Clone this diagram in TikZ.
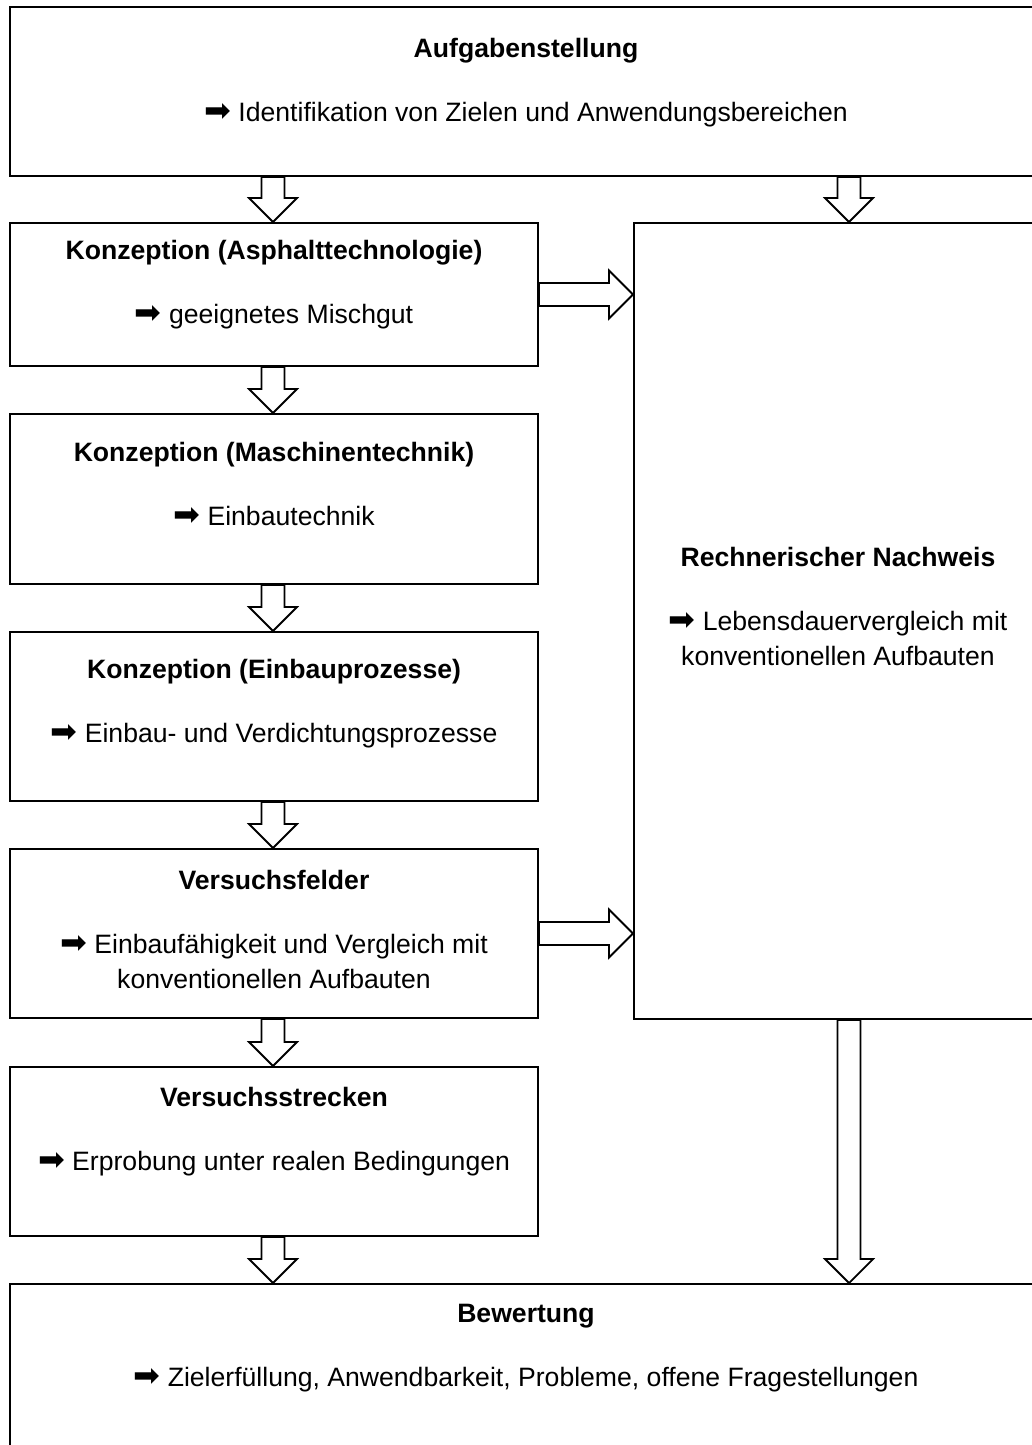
\documentclass[tikz,border=0pt]{standalone}
\usepackage{fontspec}
\setmainfont{Liberation Sans}
\newfontfamily\dingarrowfont{DejaVu Sans}
\usepackage{tikz}
\usetikzlibrary{positioning,calc}
\newcommand{\resarrow}{{\dingarrowfont\fontsize{32pt}{35pt}\selectfont ➡}}
\tikzset{
  stagebox/.style={draw=black,fill=white,line width=2pt,anchor=north west,
                   inner sep=0pt},
  stagetext/.style={align=center,inner sep=0pt,anchor=north,
                    font=\fontsize{26.6pt}{35pt}\selectfont},
  blkarrow/.style={draw=black,fill=white,line width=1.8pt,line join=miter}
}
% hollow block arrows between two boxes
\newcommand{\downblk}[3]{%
  \draw[blkarrow] ($(#1.south -| #3)+(-11.5,0)$) -- ($(#2.north -| #3)+(-11.5,-24)$)
    -- ++(-12.5,0) -- (#2.north -| #3) -- ++(24,-24) -- ++(-12.5,0)
    -- ($(#1.south -| #3)+(11.5,0)$) -- cycle;}
\newcommand{\rightblk}[2]{%
  \draw[blkarrow] ($(#1.east)+(0,-11.5)$) -- ($(#2.west |- #1.east)+(-24,-11.5)$)
    -- ++(0,-12.5) -- (#2.west |- #1.east) -- ++(-24,24) -- ++(0,-12.5)
    -- ($(#1.east)+(0,11.5)$) -- cycle;}
\begin{document}
\begin{tikzpicture}[x=1pt,y=-1pt]
  \useasboundingbox (0,0) rectangle (1032,1445);
  \clip (0,0) rectangle (1032,1445);
  \fill[white] (0,0) rectangle (1032,1445);

  \coordinate (lcol) at (273,0);
  \coordinate (rcol) at (849,0);

  \node[stagebox,minimum width=1032pt,minimum height=169pt] (auf)  at (9,6) {};
  \node[stagebox,minimum width=528pt,minimum height=143pt]  (kasp) at (9,222) {};
  \node[stagebox,minimum width=408pt,minimum height=796pt]  (rech) at (633,222) {};
  \node[stagebox,minimum width=528pt,minimum height=170pt]  (kmas) at (9,413) {};
  \node[stagebox,minimum width=528pt,minimum height=169pt]  (kein) at (9,631) {};
  \node[stagebox,minimum width=528pt,minimum height=169pt]  (vfeld) at (9,848) {};
  \node[stagebox,minimum width=528pt,minimum height=169pt]  (vstr) at (9,1066) {};
  \node[stagebox,minimum width=1032pt,minimum height=169pt] (bew)  at (9,1283) {};

  \node[stagetext,below=32.5pt of auf.north] (auft)
    {\textbf{Aufgabenstellung}\\[29pt]\resarrow{} Identifikation von Zielen und Anwendungsbereichen};
  \node[stagetext,below=18.5pt of kasp.north] (kaspt)
    {\textbf{Konzeption (Asphalttechnologie)}\\[29pt]\resarrow{} geeignetes Mischgut};
  \node[stagetext,below=29.5pt of kmas.north] (kmast)
    {\textbf{Konzeption (Maschinentechnik)}\\[29pt]\resarrow{} Einbautechnik};
  \node[stagetext,below=28.5pt of kein.north] (keint)
    {\textbf{Konzeption (Einbauprozesse)}\\[29pt]\resarrow{} Einbau- und Verdichtungsprozesse};
  \node[stagetext,below=22.5pt of vfeld.north] (vfeldt)
    {\textbf{Versuchsfelder}\\[29pt]\resarrow{} Einbaufähigkeit und Vergleich mit\\konventionellen Aufbauten};
  \node[stagetext,below=21.5pt of vstr.north] (vstrt)
    {\textbf{Versuchsstrecken}\\[29pt]\resarrow{} Erprobung unter realen Bedingungen};
  \node[stagetext,below=325.5pt of rech.north] (recht)
    {\textbf{Rechnerischer Nachweis}\\[29pt]\resarrow{} Lebensdauervergleich mit\\konventionellen Aufbauten};
  \node[stagetext,below=20.5pt of bew.north] (bewt)
    {\textbf{Bewertung}\\[29pt]\resarrow{} Zielerfüllung, Anwendbarkeit, Probleme, offene Fragestellungen};

  \downblk{auf}{kasp}{lcol}
  \downblk{kasp}{kmas}{lcol}
  \downblk{kmas}{kein}{lcol}
  \downblk{kein}{vfeld}{lcol}
  \downblk{vfeld}{vstr}{lcol}
  \downblk{vstr}{bew}{lcol}
  \downblk{auf}{rech}{rcol}
  \downblk{rech}{bew}{rcol}
  \rightblk{kasp}{rech}
  \rightblk{vfeld}{rech}
\end{tikzpicture}
\end{document}
